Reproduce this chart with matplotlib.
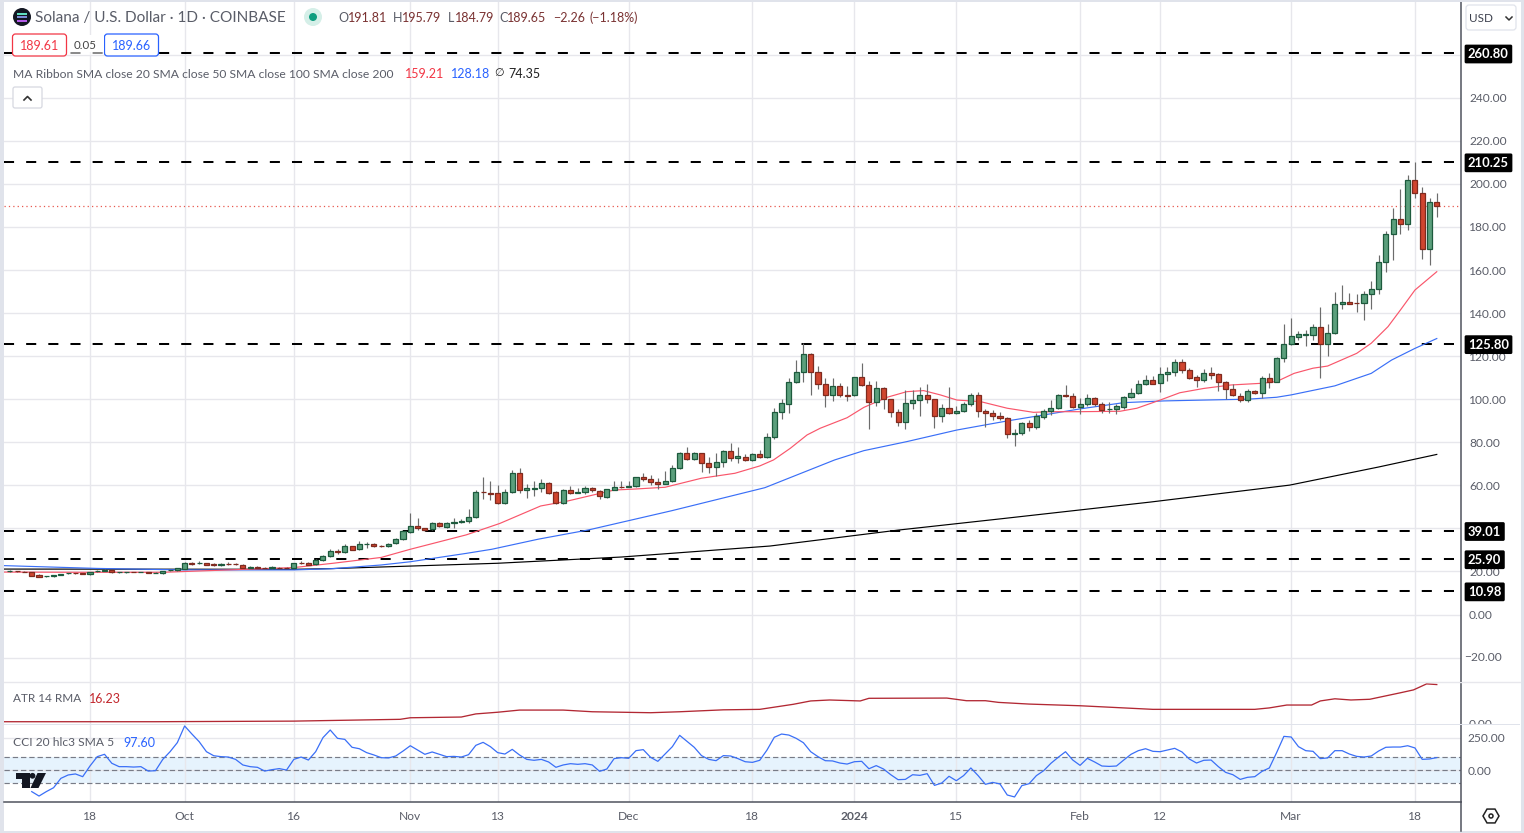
import numpy as np
import matplotlib
matplotlib.use("Agg")
import matplotlib.pyplot as plt
from matplotlib.patches import FancyBboxPatch, Circle, Polygon, Rectangle, RegularPolygon
from matplotlib.transforms import Bbox

W, H = 1524, 833
FONT = ["Lato", "DejaVu Sans"]
plt.rcParams["font.family"] = FONT

opens = [20.0,20.2,19.9,19.6,18.2,17.7,17.8,18.5,19.1,19.3,
 19.2,18.7,20.0,20.4,20.5,19.7,19.6,19.8,19.7,19.7,
 19.4,19.1,20.6,20.5,21.3,23.9,23.9,23.8,23.3,22.9,
 23.6,23.5,23.2,21.6,21.9,21.7,21.6,21.8,21.7,21.6,
 24.1,23.8,23.3,25.2,27.0,29.3,28.9,31.7,30.3,32.7,
 32.6,31.9,31.7,33.0,34.9,38.2,41.0,40.0,39.6,42.4,
 40.8,42.4,43.1,43.3,45.1,56.9,56.5,56.3,51.6,56.7,
 65.6,57.7,58.5,58.6,60.9,56.7,51.6,57.7,56.6,56.7,
 58.6,57.5,54.7,58.0,59.2,59.4,59.5,63.7,62.8,61.4,
 60.8,61.9,67.9,74.9,72.1,74.9,70.2,68.4,70.7,75.8,
 72.5,73.3,71.8,74.4,73.0,82.3,94.0,98.0,107.8,112.5,
 120.8,112.5,106.9,101.8,106.0,101.8,101.8,110.2,106.4,98.6,
 105.0,99.9,93.9,89.3,98.1,99.5,101.8,99.9,92.1,95.8,
 93.4,94.4,97.6,101.8,94.4,93.4,92.4,91.1,83.7,84.2,
 88.8,86.9,91.9,94.4,95.8,101.9,101.3,96.5,97.6,100.4,
 97.6,95.3,95.3,96.5,100.9,102.7,106.9,108.8,107.4,111.6,
 112.5,117.1,113.4,110.2,108.8,112.0,111.6,108.2,104.9,101.3,
 99.8,104.0,103.0,109.7,108.2,119.0,125.7,129.1,130.0,130.0,
 133.4,125.5,130.6,144.1,145.0,144.6,144.6,148.7,151.0,163.6,
 176.6,183.6,181.5,201.7,195.6,169.6,191.81]
closes = [20.3,20.0,19.7,18.0,17.6,17.8,18.2,18.8,19.3,19.1,
 19.0,19.7,20.4,20.7,19.6,19.7,19.7,19.7,19.8,19.4,
 19.4,20.2,20.7,21.4,23.8,23.3,24.0,23.1,23.1,23.5,
 23.5,23.4,21.8,21.9,21.6,21.4,21.9,21.6,21.6,23.8,
 23.8,23.2,25.2,27.2,29.3,29.2,31.7,30.1,32.6,32.9,
 31.7,31.7,32.6,34.9,38.6,41.0,40.0,39.3,42.4,41.0,
 42.4,42.8,43.4,45.1,56.9,56.7,56.2,51.6,56.7,65.6,
 57.7,58.6,58.7,60.9,56.6,51.6,57.7,56.3,56.8,58.6,
 57.7,54.9,58.1,59.1,59.0,59.6,63.7,62.8,61.4,60.8,
 61.9,67.9,74.9,72.1,74.9,70.2,68.4,70.7,75.8,72.5,
 73.6,71.8,74.4,73.0,82.3,93.9,98.1,107.8,112.5,120.8,
 112.5,106.9,101.8,106.0,101.8,101.7,110.2,106.4,98.6,105.0,
 99.9,93.9,89.3,98.1,99.5,101.8,99.9,92.1,95.8,93.4,
 94.4,97.6,101.8,94.4,93.4,92.4,91.1,83.7,84.2,88.8,
 86.9,92.1,94.4,95.8,101.8,101.7,96.5,97.6,100.4,97.6,
 95.1,95.3,96.7,100.9,102.7,107.1,108.8,107.2,111.7,112.5,
 117.1,113.4,110.0,108.8,112.0,111.4,108.2,104.9,101.8,99.8,
 104.0,103.0,109.7,108.2,119.0,125.5,129.2,130.3,130.2,133.4,
 125.5,130.6,144.1,145.0,144.4,144.5,148.7,151.0,163.6,176.6,
 183.6,181.5,201.7,195.6,169.6,191.5,189.65]
highs = [20.5,20.4,20.0,19.7,18.6,18.0,18.5,18.9,19.4,19.4,
 19.3,19.9,20.7,21.0,20.8,19.9,19.8,19.9,19.9,19.8,
 19.6,20.4,20.9,21.7,24.4,24.6,24.8,24.0,23.7,24.0,
 24.2,24.0,23.4,22.4,22.4,21.9,22.4,22.0,22.0,24.0,
 25.0,24.3,25.6,27.6,30.4,30.2,32.6,32.0,34.0,33.5,
 33.0,32.3,33.0,35.3,39.0,47.0,44.7,40.3,42.8,43.0,
 42.8,44.7,44.2,48.8,57.8,64.0,62.0,60.1,58.3,67.1,
 68.0,60.6,61.9,62.8,61.7,57.2,58.3,59.7,58.9,59.5,
 59.2,57.9,58.5,62.0,61.9,62.2,64.0,65.6,64.8,63.4,
 66.6,69.4,75.6,78.0,75.4,75.2,73.3,74.9,76.4,79.8,
 77.6,74.5,75.2,76.4,84.2,95.8,100.0,110.0,118.2,126.2,
 121.3,115.4,110.0,110.0,107.7,106.1,110.5,117.0,108.6,108.6,
 105.8,100.2,95.3,104.3,104.3,105.8,107.1,100.3,97.8,105.8,
 96.8,98.5,103.0,103.5,95.3,95.0,94.2,91.6,86.2,89.3,
 90.2,93.8,95.5,99.6,102.5,106.6,103.0,100.4,102.3,100.9,
 98.9,98.7,97.6,101.6,105.0,108.9,111.2,110.8,114.8,114.8,
 118.7,118.7,114.3,111.2,114.0,114.8,112.3,108.6,107.0,102.7,
 104.6,104.3,110.8,112.0,119.4,135.0,137.6,131.7,132.2,135.0,
 143.0,135.0,149.8,153.0,149.2,148.9,150.3,154.9,167.0,178.3,
 189.0,197.6,204.1,210.3,198.7,193.3,195.79]
lows = [19.9,19.9,19.6,17.9,17.5,17.5,17.6,18.4,19.0,19.0,
 18.9,18.5,19.9,20.2,19.5,19.5,19.4,19.6,19.6,19.3,
 19.2,19.0,20.4,20.3,21.1,23.1,23.6,22.8,22.7,22.7,
 23.2,23.0,21.7,21.4,21.4,21.2,21.3,21.4,21.4,21.4,
 23.6,23.0,23.1,25.0,26.8,28.3,28.7,29.8,30.1,31.0,
 31.5,31.5,31.5,32.8,34.8,38.0,39.2,38.6,39.3,40.7,
 40.0,40.3,42.7,42.7,44.9,53.7,53.2,51.4,51.4,56.5,
 56.6,54.3,55.2,57.1,56.0,51.4,51.3,56.0,56.3,56.2,
 56.7,53.6,54.1,57.6,58.6,59.1,59.2,62.2,60.1,58.3,
 60.4,61.7,67.5,71.8,71.9,66.4,65.9,64.3,68.7,71.5,
 70.5,71.5,71.5,72.5,72.8,81.4,90.7,93.4,107.5,108.2,
 102.0,104.7,96.5,99.3,100.9,99.3,101.5,106.2,86.0,97.0,
 95.5,91.9,87.6,86.0,95.5,92.4,98.1,86.8,89.6,92.9,
 93.0,94.0,96.7,91.6,87.3,90.4,90.5,82.1,78.4,83.5,
 85.4,86.0,91.0,92.7,95.3,101.2,96.1,93.0,96.9,97.0,
 93.4,93.8,93.3,95.3,100.5,102.4,106.6,106.9,103.5,108.6,
 110.9,112.0,109.5,105.8,108.2,109.2,104.0,100.0,101.5,98.7,
 98.7,102.3,100.4,105.4,107.8,117.5,125.4,127.5,124.9,127.5,
 110.0,120.1,130.3,141.9,144.0,140.7,136.8,141.9,148.9,159.1,
 164.7,176.7,178.6,193.6,165.3,162.5,184.79]

sma20_days = [-0.8,10,21,39,44.4,51,55,62.7,67.3,72.9,76.6,83,86,90,95,99.6,103,104.9,107.2,109.5,111.3,115,117.3,
 120.5,123.2,125.5,127.8,130.1,133.3,137,140.6,142.9,147,152.5,154.8,158,160.7,164,167.7,172,174,176.4,179,181,
 185,187,189.3,191,193,196]
sma20_vals = [19.7,19.6,19.6,21.8,23.8,26.5,30.3,37.0,42.3,50.4,52.7,57.8,58.3,59.1,63.3,65.6,69.0,71.8,77.2,83.4,86.5,91.4,96.2,
 100.9,103.5,104.0,102.0,99.6,98.9,95.8,93.9,94.2,94.2,94.4,95.8,99.6,103.0,105.0,106.6,107.4,108.2,112.0,114.4,115.4,
 121.3,126.0,133.7,141.4,150.7,159.21]
sma50_days = [-0.8,12,24,39,44.4,51,55,62.7,66.2,72.6,79.5,90.9,103.7,113.3,117.3,123.2,130.1,137,141.5,147,153,158.5,164,170,174,176,182,187,189.8,193,196]
sma50_vals = [22.7,21.4,20.7,20.7,21.3,23.0,24.5,28.4,30.3,35.0,39.3,48.2,58.9,71.8,76.1,80.3,85.7,89.9,92.4,95.5,98.4,99.2,99.6,100.0,100.9,102.0,106.2,112.0,118.2,123.6,128.18]
sma200_days = [-0.8,39,44,67,84,104.4,122,136,156.6,175.8,188,196]
sma200_vals = [21.1,21.0,21.3,23.8,26.7,31.8,39.2,44.4,52.2,60.1,68.5,74.35]

atr_days = [-0.8,20,39,53.6,55,62,64,67,70,76,80,88,92,98,103,107.6,110,112.6,116.8,118,128.7,131.4,134,135.8,140,147,157,171,173,175.4,178.8,180,182,184.2,186.8,191,192.8,194.6,196]
atr_vals = [0.75,0.75,1.0,1.75,2.4,2.7,4.0,4.7,5.6,5.6,4.9,4.5,4.9,5.7,5.9,8.0,9.4,9.8,9.4,10.5,10.6,9.5,9.5,8.8,8.1,7.4,5.9,5.9,6.5,7.7,7.7,9.4,10.3,9.8,10.1,12.8,14.0,16.5,16.23]

cci = [-67,np.nan,np.nan,-164,-198,-164,-134,-62,-36,-28,-49,33,105,123,54,28,28,25,28,-6,-3,84,143,213,341,279,220,143,112,105,
 102,84,41,28,23,-6,5,13,2,84,102,79,143,251,310,246,238,177,166,136,118,97,95,110,148,189,156,123,141,123,
 105,107,102,120,192,215,182,136,125,161,118,84,77,84,64,23,41,51,46,51,41,-8,10,90,97,92,151,159,100,69,
 125,182,269,223,177,113,84,74,113,110,90,66,61,77,156,254,279,271,246,212,143,105,74,72,56,48,66,69,12,36,
 10,-34,-72,-70,-34,-39,-26,-116,-98,-46,-80,-41,18,-41,-108,-93,-105,-190,-205,-118,-103,-41,-3,54,100,143,79,38,92,64,
 33,30,33,79,123,151,166,146,143,156,169,141,87,56,77,79,28,-16,-34,-70,-54,-49,-8,18,136,261,256,182,151,146,
 90,95,151,151,125,107,102,110,148,177,179,179,189,172,84,87,97.6]

levels = [260.80, 210.25, 125.80, 39.01, 25.90, 10.98]
last_close = 189.65
price_ticks = [-20,0,20,40,60,80,100,120,140,160,180,200,220,240,260]
date_ticks = [11,24,39,55,67,85,102,116,130,147,158,176,193]
date_labels = ["18","Oct","16","Nov","13","Dec","18","2024","15","Feb","12","Mar","18"]

GRID = "#e7e7ec"
TXT = "#5a5d68"
AXLINE = "#50535e"
BG_STRIP = "#e0e3eb"
UP_F, UP_E = "#5b9f7c", "#1d5a3d"
DN_F, DN_E = "#d0452f", "#7f2a1e"
WICK = "#6c6c6c"
RED_MA, BLUE_MA = "#f9566b", "#3a6ff7"
fs = 12 * 72 / 100

fig = plt.figure(figsize=(W/100, H/100), dpi=100, facecolor="white")
def rect(x0, y0, x1, y1):
    return [x0/W, 1-y1/H, (x1-x0)/W, (y1-y0)/H]

L, R = 4, 1461
xlim = ((L-9.9)/7.28, (R-9.9)/7.28)
ax = fig.add_axes(rect(L, 2, R, 682))
a2 = fig.add_axes(rect(L, 682, R, 724))
a3 = fig.add_axes(rect(L, 725, R, 802))

for a in (ax, a2, a3):
    a.set_xlim(*xlim)
    a.set_xticks(date_ticks)
    a.grid(True, color=GRID, lw=1.0, zorder=0)
    a.set_axisbelow(True)
    a.tick_params(length=0, labelsize=fs, labelcolor=TXT, left=False, right=False, bottom=False)
    a.yaxis.tick_right()
    for s in a.spines.values():
        s.set_visible(False)
    a.spines["right"].set_visible(True)
    a.spines["right"].set_color(AXLINE)
    a.spines["right"].set_linewidth(1.1)

# main pane
ax.set_ylim((614.5-682)/2.153, (614.5-2)/2.153)
ax.set_yticks(price_ticks)
ax.set_yticklabels([("" if t == -20 else f"{t:.2f}") for t in price_ticks])
ax.tick_params(axis="y", pad=5.8)
ax.set_xticklabels([])
ax.annotate("\u221220.00", xy=(1, -20), xycoords=ax.get_yaxis_transform(), xytext=(3, 0), textcoords="offset pixels",
            fontsize=fs, color=TXT, va="center", ha="left", annotation_clip=False)

idx = np.arange(len(opens))
o, h, l, c = map(np.array, (opens, highs, lows, closes))

ax.axhline(last_close, color="#e8584f", lw=0.9, ls=(0, (1, 2.5)), zorder=1.5)
for lv in levels:
    ax.axhline(lv, color="black", lw=1.45, ls=(0, (5.0, 6.0)), dash_capstyle="butt", zorder=1.6)

ax.plot(sma200_days, sma200_vals, color="black", lw=0.85, zorder=2)
ax.plot(sma50_days, sma50_vals, color=BLUE_MA, lw=0.85, zorder=2.1)
ax.plot(sma20_days, sma20_vals, color=RED_MA, lw=0.85, zorder=2.2)

up = c >= o
ax.vlines(idx, l, h, color=WICK, lw=0.85, zorder=3)
ax.bar(idx[up], (c-o)[up], bottom=o[up], width=0.70, color=UP_F, edgecolor=UP_E, linewidth=0.9, zorder=4)
ax.bar(idx[~up], (o-c)[~up], bottom=c[~up], width=0.70, color=DN_F, edgecolor=DN_E, linewidth=0.9, zorder=4)

for lv in levels:
    ax.annotate(f"{lv:.2f}", xy=(1, lv), xycoords=ax.get_yaxis_transform(), xytext=(7, -1),
                textcoords="offset pixels", color="white", fontsize=13*72/100, fontweight="bold", ha="left", va="center",
                bbox=dict(boxstyle="round,pad=0.26,rounding_size=0.12", fc="black", ec="black", lw=0),
                annotation_clip=False, zorder=10)

# ATR pane
a2.set_ylim(-0.2, (723.5-682)/2.4)
a2.set_yticks([])
a2.set_xticklabels([])
a2.plot(atr_days, atr_vals, color="#b22833", lw=0.95)
atr_lab = a2.annotate("0.00", xy=(1, -0.2), xycoords=a2.get_yaxis_transform(), xytext=(8, 0), textcoords="offset pixels",
                      fontsize=fs, color=TXT, va="center", ha="left", annotation_clip=False)
atr_lab.set_clip_on(True)
atr_lab.set_clip_box(Bbox([[1462, H-724], [1520, H-682]]))

# CCI pane
a3.set_ylim((770.3-802)/0.13, (770.3-725)/0.13)
a3.axhspan(-100, 100, color="#2196f3", alpha=0.11, lw=0, zorder=0.5)
for v in (100, 0, -100):
    a3.axhline(v, color="#787b86", lw=0.85, ls=(0, (4.5, 2.5)), zorder=1)
a3.plot(idx, cci, color="#3a6ff7", lw=0.9, zorder=2)
a3.set_yticks([0, 250])
a3.set_yticklabels(["0.00", "250.00"])
a3.tick_params(axis="y", pad=5)
a3.set_xticklabels(date_labels)
a3.tick_params(axis="x", pad=6.5)
for t, s in zip(a3.get_xticklabels(), date_labels):
    if s == "2024":
        t.set_fontweight("bold")

# overlay chrome in pixel coordinates
ov = fig.add_axes([0, 0, 1, 1], facecolor="none", zorder=20)
ov.set_xlim(0, W); ov.set_ylim(H, 0); ov.axis("off")

# page edges and separators
for r in [(0, 0, 3.5, H), (0, 0, W, 1.5), (1520.5, 0, 3.5, H), (0, 830.5, W, 2.5)]:
    ov.add_patch(Rectangle((r[0], r[1]), r[2], r[3], fc=BG_STRIP, ec="none"))
ov.add_patch(Rectangle((4, 723.6), 1516, 1.8, fc="#e0e3eb", ec="none"))
ov.plot([4, 1461], [802.3, 802.3], color=AXLINE, lw=1.1)
ov.plot([1461.2, 1461.2], [802, 830.5], color=AXLINE, lw=1.1)
ov.plot([4, 1520], [682, 682], color=GRID, lw=1.0)

def T(x, y, s, color=TXT, size=12, **kw):
    ov.text(x, y, s, color=color, fontsize=size*72/100, va="center", ha=kw.pop("ha", "left"), **kw)

# header
ov.add_patch(Circle((22, 17), 9, fc="#131722", ec="none"))
for yy, cc in ((13.5, "#5fe0c0"), (17, "#7d8dd8"), (20.5, "#b45be8")):
    ov.add_patch(Rectangle((17, yy-1), 10, 2, fc=cc, ec="none"))
T(35, 18, "Solana / U.S. Dollar \u00b7 1D \u00b7 COINBASE", size=15.4)
ov.add_patch(Circle((313, 17), 9, fc="#d5efe8", ec="none"))
ov.add_patch(Circle((313, 17), 4, fc="#0f9d7f", ec="none"))
DR = "#7a3232"
for x, lab, val, off in ((338, "O", "191.81", 10), (393, "H", "195.79", 9), (448, "L", "184.79", 7), (499, "C", "189.65", 8)):
    T(x, 18, lab, size=12.5)
    T(x+off, 18, val, color=DR, size=12.5)
T(553, 18, "\u22122.26", color=DR, size=12.5)
T(590, 18, "(\u22121.18%)", color=DR, size=12.5)

for x0, x1, cc, s in ((12.5, 66.5, "#f23645", "189.61"), (104.5, 158.5, "#2962ff", "189.66")):
    ov.add_patch(FancyBboxPatch((x0+2, 36), x1-x0-4, 18, boxstyle="round,pad=2,rounding_size=3", fc="white", ec=cc, lw=0.9))
    T((x0+x1)/2, 46, s, color=cc, size=12.5, ha="center")
ov.add_patch(Rectangle((67.5, 35), 36, 17, fc="white", ec="none"))
ov.add_patch(Rectangle((67.5, 51.5), 36, 3.5, fc="white", ec="none", alpha=0.55))
T(85.5, 45, "0.05", color="#444", size=11.5, ha="center")

T(13, 74, "MA Ribbon SMA close 20 SMA close 50 SMA close 100 SMA close 200", size=12.15)
T(405, 74, "159.21", color="#f23645", size=12.5)
T(451, 74, "128.18", color="#2962ff", size=12.5)
T(494, 73, "\u2205", color="#222", size=11, family=["DejaVu Sans"])
T(508, 74, "74.35", color="#222", size=12.5)

ov.add_patch(FancyBboxPatch((15, 89), 25, 17, boxstyle="round,pad=2,rounding_size=2", fc="white", ec="#d6d8e0", lw=0.9))
ov.plot([24, 27.5, 31], [100, 96.5, 100], color="#333", lw=1.2)

ov.add_patch(FancyBboxPatch((1468, 7), 46, 21, boxstyle="round,pad=2,rounding_size=3", fc="white", ec="#e0e3eb", lw=0.9))
T(1469, 18, "USD", color="#3b3f4c", size=11.6)
ov.plot([1506, 1509, 1512], [17, 20, 17], color="#333", lw=1.1)

T(13, 699, "ATR 14 RMA", size=11.8)
T(89, 699, "16.23", color="#c2272d", size=12.5)
T(13, 743, "CCI 20 hlc3 SMA 5", size=12)
T(123, 743, "97.60", color="#2962ff", size=12.5)

# logo
K = "#131722"
ov.add_patch(Polygon([(16, 773), (30, 773), (30, 788), (21.5, 788), (21.5, 779), (16, 779)], fc=K, ec="none"))
ov.add_patch(Circle((32.5, 775.8), 2.9, fc=K, ec="none"))
ov.add_patch(Polygon([(37.5, 773), (46, 773), (38.5, 788), (30.5, 788)], fc=K, ec="none"))

# gear hex
ov.add_patch(RegularPolygon((1491, 816), 6, radius=8, orientation=np.pi/2, fc="white", ec="#222", lw=1.1))
ov.add_patch(Circle((1491, 816), 2, fc="white", ec="#222", lw=1.1))

fig.savefig("out.png", dpi=100, facecolor="white")
